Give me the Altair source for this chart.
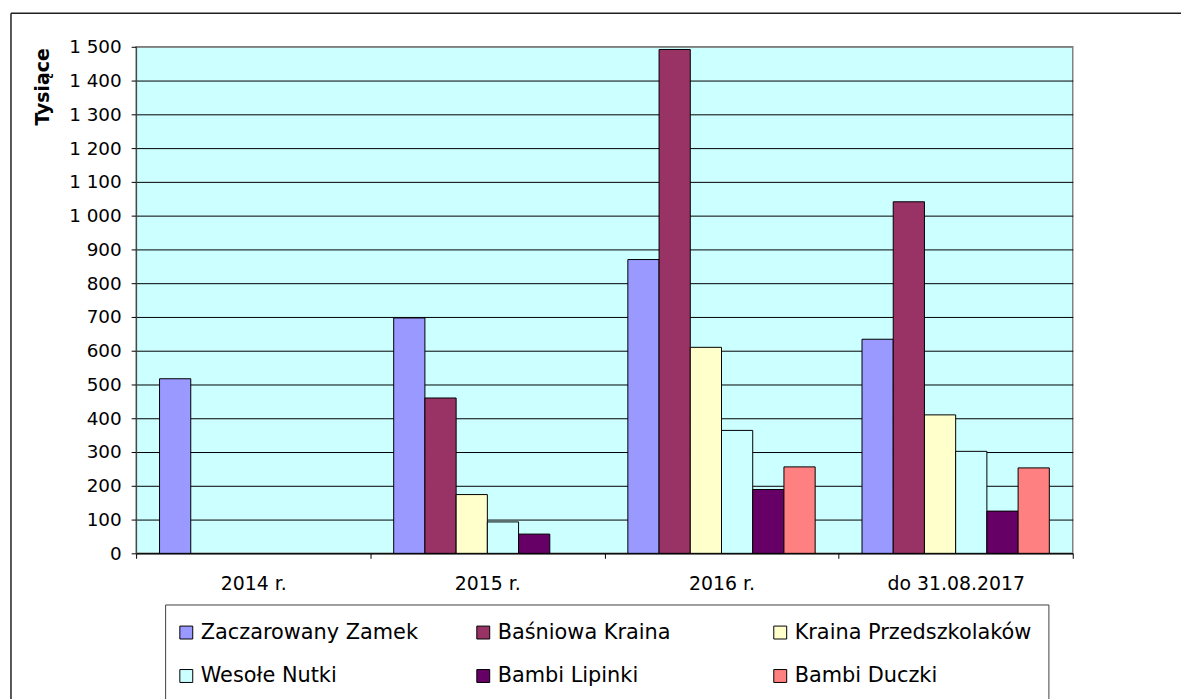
import altair as alt
import pandas as pd

years = ["2014 r.", "2015 r.", "2016 r.", "do 31.08.2017"]
series = ["Zaczarowany Zamek", "Baśniowa Kraina", "Kraina Przedszkolaków",
          "Wesołe Nutki", "Bambi Lipinki", "Bambi Duczki"]
colors = ["#9999FF", "#993366", "#FFFFCC", "#CCFFFF", "#660066", "#FF8080"]

zaczarowany_zamek = [517, 697, 870, 634]
basniowa_kraina = [None, 460, 1492, 1041]
kraina_przedszkolakow = [None, 174, 610, 410]
wesole_nutki = [None, 93, 364, 302]
bambi_lipinki = [None, 57, 189, 125]
bambi_duczki = [None, None, 256, 253]

y_ticks = list(range(0, 1501, 100))

all_values = [zaczarowany_zamek, basniowa_kraina, kraina_przedszkolakow,
              wesole_nutki, bambi_lipinki, bambi_duczki]
rows = []
for s, vals in zip(series, all_values):
    for yr, v in zip(years, vals):
        if v is not None:
            rows.append({"year": yr, "series": s, "value": v})
df = pd.DataFrame(rows)

FONT = "DejaVu Sans"

bars = alt.Chart(df).mark_bar(stroke="black", strokeWidth=1).encode(
    x=alt.X("year:N", sort=years,
            scale=alt.Scale(domain=years, paddingInner=0, paddingOuter=0),
            axis=alt.Axis(title=None, tickBand="extent", labelAngle=0,
                          labelFont=FONT, labelFontSize=19, labelColor="black",
                          labelPadding=16, tickSize=5, tickColor="black",
                          domainColor="black", domainWidth=1, grid=False)),
    xOffset=alt.XOffset("series:N", sort=series,
                        scale=alt.Scale(domain=series, paddingInner=0, paddingOuter=0.75)),
    y=alt.Y("value:Q", scale=alt.Scale(domain=[0, 1500], nice=False),
            axis=alt.Axis(values=y_ticks, title="Tysiące",
                          labelExpr="replace(format(datum.value, ','), ',', ' ')",
                          labelFont=FONT, labelFontSize=18.5, labelColor="black",
                          labelPadding=10, tickSize=5, tickColor="black",
                          domainColor="#404040", domainWidth=1,
                          grid=True, gridWidth=1,
                          gridColor={"condition": {"test": "datum.value === 1500", "value": "#808080"},
                                     "value": "#000000"},
                          titleFont=FONT, titleFontSize=19, titleFontWeight="bold",
                          titleColor="black", titleAngle=-90, titleAlign="right",
                          titleBaseline="middle", titleX=-94, titleY=1)),
    color=alt.Color("series:N", sort=series,
                    scale=alt.Scale(domain=series, range=colors),
                    legend=alt.Legend(title=None, orient="none", legendX=40, legendY=579,
                                      direction="horizontal", columns=3, gridAlign="all",
                                      columnPadding=35, rowPadding=22,
                                      symbolType="square", symbolSize=169,
                                      symbolStrokeColor="black", symbolStrokeWidth=1,
                                      labelFont=FONT, labelFontSize=21, labelColor="black",
                                      labelOffset=4, labelLimit=400, padding=0)),
)

one = pd.DataFrame({"k": [0]})


def rule(color, width, **enc):
    return alt.Chart(one).mark_rule(color=color, strokeWidth=width).encode(**enc)


decor = [
    # outer frame (left and top edges; right/bottom lie beyond the picture)
    rule("#202020", 1.5, x=alt.value(-126), y=alt.value(-33.7), y2=alt.value(660)),
    rule("#202020", 1.5, x=alt.value(-126), x2=alt.value(1060), y=alt.value(-33.7)),
    # legend box
    rule("#404040", 1, x=alt.value(29.7), x2=alt.value(919), y=alt.value(562)),
    rule("#404040", 1, x=alt.value(29.7), y=alt.value(562), y2=alt.value(660)),
    rule("#404040", 1, x=alt.value(919), y=alt.value(562), y2=alt.value(660)),
]

chart = alt.layer(bars, *decor).properties(
    width=943, height=510,
    autosize=alt.AutoSizeParams(type="none"),
    padding={"left": 129, "top": 36.7, "right": 109, "bottom": 144.3},
).configure_view(fill="#CCFFFF", stroke="#808080", strokeWidth=1.5)

chart.save("out.html", embed_options={"renderer": "svg", "actions": False})
